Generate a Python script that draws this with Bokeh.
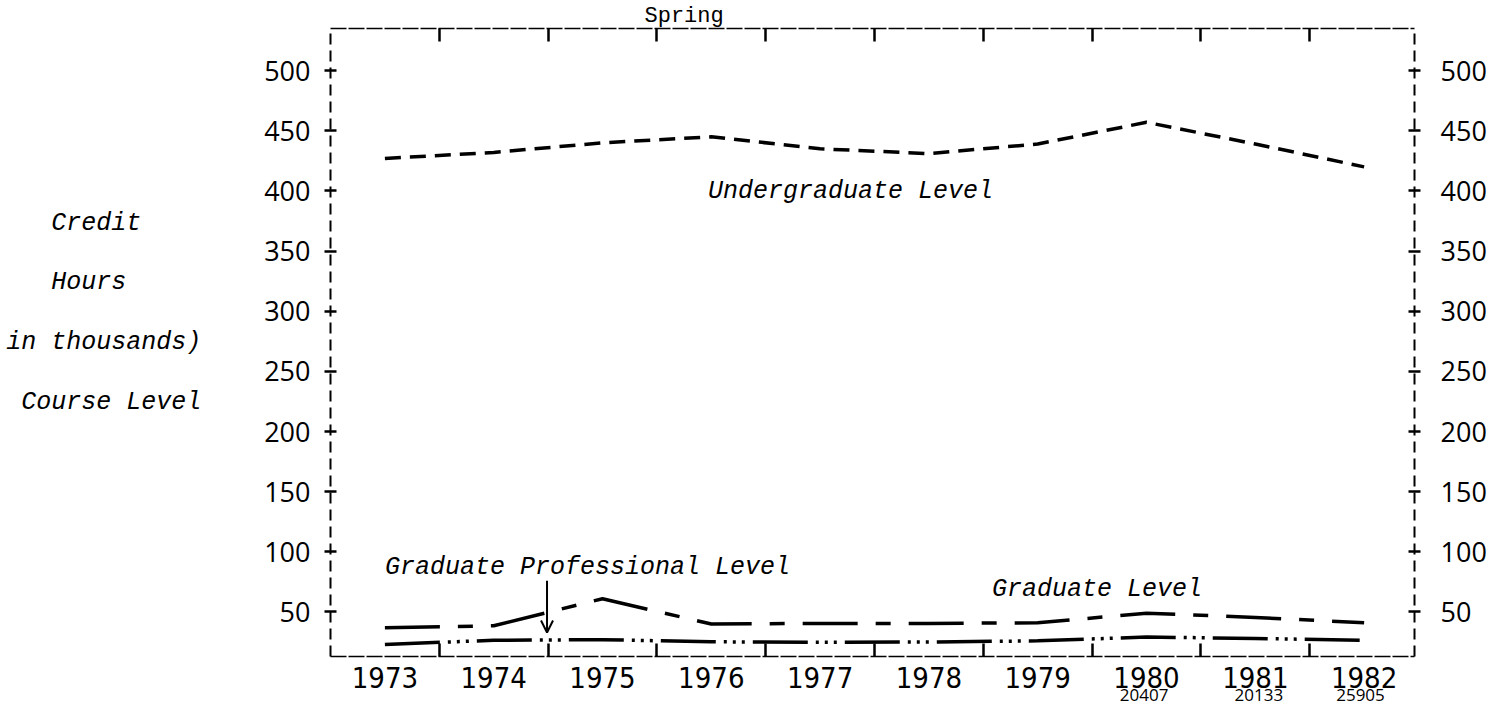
from bokeh.plotting import figure
from bokeh.models import LinearAxis, FixedTicker, Range1d, Label, Arrow, OpenHead, Title
from bokeh.embed import file_html
from bokeh.resources import INLINE

# ---- data (credit hours, thousands) ----
years = [1973, 1974, 1975, 1976, 1977, 1978, 1979, 1980, 1981, 1982]
undergraduate = [427, 432, 440, 445, 435, 431, 439, 457, 439, 420]
grad_professional = [37, 38.5, 61, 40, 40.5, 40.5, 41, 49, 45.5, 41]
graduate = [23, 26.5, 27, 25.2, 24.9, 25, 26, 29.2, 28, 26.5]
y_ticks = [50, 100, 150, 200, 250, 300, 350, 400, 450, 500]
x_tick_mids = [1973.5, 1974.5, 1975.5, 1976.5, 1977.5, 1978.5, 1979.5, 1980.5, 1981.5]
side_labels = ["Credit", "Hours", "in thousands)", "Course Level"]
bottom_numbers = ["20407", "20133", "25905"]

MONO = "'Liberation Mono', 'Courier New', monospace"
SANS = "'Open Sans', 'DejaVu Sans', sans-serif"
NARROW = "'Liberation Sans Narrow', 'DejaVu Sans Condensed', sans-serif"
NB = "\u00a0"

p = figure(width=1490, height=708,
           x_range=Range1d(1972.5, 1982.463), y_range=Range1d(13, 535),
           x_axis_type=None, y_axis_type=None,
           toolbar_location=None, output_backend="svg",
           min_border_left=330, min_border_right=76,
           min_border_top=28, min_border_bottom=46)
p.outline_line_color = None
p.background_fill_color = "white"
p.border_fill_color = "white"

def style_value_axis(ax, standoff):
    ax.ticker = FixedTicker(ticks=y_ticks)
    ax.axis_line_color = "black"
    ax.axis_line_width = 2
    ax.axis_line_dash = "11 6"
    ax.major_tick_in = 6
    ax.major_tick_out = 6
    ax.major_tick_line_width = 2.5
    ax.major_tick_line_color = "black"
    ax.minor_tick_line_color = None
    ax.major_label_text_font = SANS
    ax.major_label_text_font_size = "27px"
    ax.major_label_text_color = "black"
    ax.major_label_standoff = standoff

# left-side caption lines (right-aligned block); short lines padded to sit further left
pads = [4, 5, 0, 0]
left_caption = "\n\n".join(t + NB * n for t, n in zip(side_labels, pads)) + "\n\n" + NB

left = LinearAxis()
style_value_axis(left, 14)
left.axis_label = left_caption
left.axis_label_orientation = "horizontal"
left.axis_label_text_font = MONO
left.axis_label_text_font_style = "italic"
left.axis_label_text_font_size = "25px"
left.axis_label_text_line_height = 1.03
left.axis_label_text_align = "center"
left.axis_label_text_color = "black"
left.axis_label_standoff = 60
p.add_layout(left, "left")

right = LinearAxis()
style_value_axis(right, 20)
p.add_layout(right, "right")

bottom = LinearAxis(ticker=FixedTicker(ticks=years, minor_ticks=x_tick_mids))
bottom.axis_line_color = "black"
bottom.axis_line_width = 1.5
bottom.axis_line_dash = "16 2"
bottom.major_tick_line_color = None
bottom.minor_tick_in = 13
bottom.minor_tick_out = 0
bottom.minor_tick_line_width = 2.5
bottom.minor_tick_line_color = "black"
bottom.major_label_text_font = NARROW
bottom.major_label_text_font_size = "29px"
bottom.major_label_text_color = "black"
bottom.major_label_standoff = 4
# the partly visible row of figures below the chart, pushed to the right side
bottom.axis_label = (NB * 172 + bottom_numbers[0] + NB * 15 + bottom_numbers[1]
                     + NB * 12 + bottom_numbers[2])
bottom.axis_label_text_font = SANS
bottom.axis_label_text_font_style = "normal"
bottom.axis_label_text_font_size = "17px"
bottom.axis_label_text_color = "black"
bottom.axis_label_standoff = -8
p.add_layout(bottom, "below")

top = LinearAxis(ticker=FixedTicker(ticks=[], minor_ticks=x_tick_mids))
top.axis_line_color = "black"
top.axis_line_width = 1.5
top.axis_line_dash = "16 2"
top.major_tick_line_color = None
top.minor_tick_in = 13
top.minor_tick_out = 0
top.minor_tick_line_width = 2.5
top.minor_tick_line_color = "black"
top.major_label_text_font_size = "0px"
p.add_layout(top, "above")

p.add_layout(Title(text="Spring", align="left", offset=314, standoff=0,
                   text_font=MONO, text_font_size="22px", text_font_style="normal",
                   text_color="black"), "above")

# ---- series ----
p.line(years, undergraduate, line_color="black", line_width=3.5, line_dash="16 9")
p.line(years, grad_professional, line_color="black", line_width=3.5,
       line_dash="55 18 15 18")
p.line(years, graduate, line_color="black", line_width=3.5,
       line_dash="55 8 3 6 3 6 3 8")

# ---- annotations in the frame ----
def note(x, y, text):
    p.add_layout(Label(x=x, y=y, text=text, text_font=MONO, text_font_size="25px",
                       text_font_style="italic", text_color="black",
                       text_baseline="alphabetic", text_align="left"))

note(1975.97, 399.5, "Undergraduate Level")
note(1973.0, 87, "Graduate Professional Level")
note(1978.58, 69, "Graduate Level")

p.add_layout(Arrow(end=OpenHead(size=12, line_width=2, line_color="black"),
                   x_start=1974.49, y_start=76, x_end=1974.49, y_end=33,
                   line_width=2, line_color="black"))

open("out.html", "w").write(file_html(p, INLINE))
